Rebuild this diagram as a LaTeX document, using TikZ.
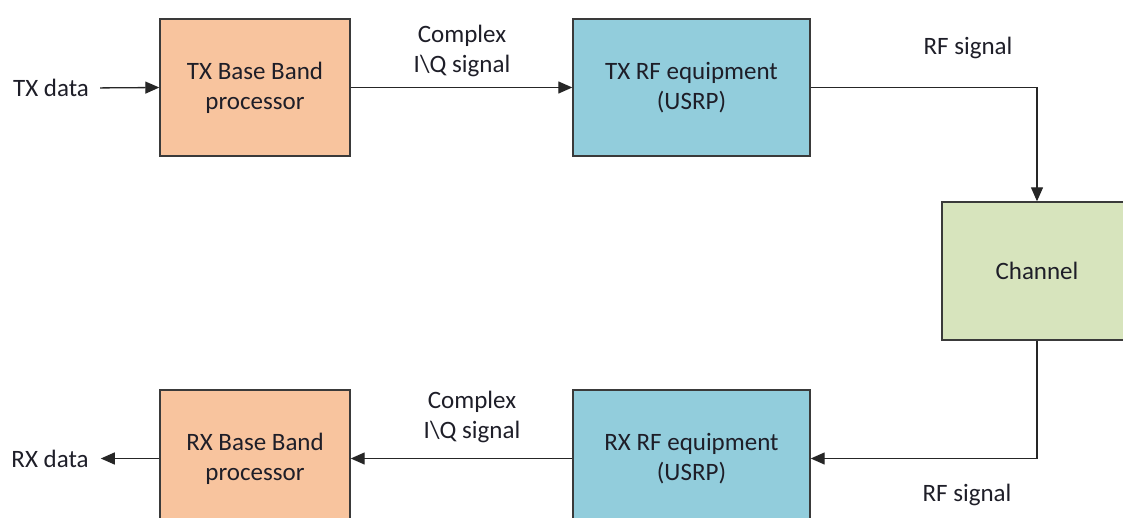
\documentclass[tikz,border=0pt]{standalone}
\usepackage{fontspec}
\setmainfont{Carlito}
\usetikzlibrary{arrows.meta}
\definecolor{bborange}{HTML}{F8C49E}
\definecolor{rfblue}{HTML}{92CDDC}
\definecolor{chgreen}{HTML}{D7E4BD}
\definecolor{edgegray}{HTML}{3A3A3A}
\definecolor{txtcol}{HTML}{1E1E28}
\begin{document}
\begin{tikzpicture}[x=1pt,y=-1pt,
  every node/.style={font=\fontsize{25}{30}\selectfont, text=txtcol},
  blockbox/.style={draw=edgegray, line width=1.4pt, align=center, inner sep=0pt},
  bbbox/.style={blockbox, fill=bborange, minimum width=190pt, minimum height=137pt},
  rfbox/.style={blockbox, fill=rfblue, minimum width=237pt, minimum height=137pt},
  chbox/.style={blockbox, fill=chgreen, minimum width=190pt, minimum height=138pt},
  lbl/.style={align=center, inner sep=0pt},
  conn/.style={draw=black!85, line width=1.3pt, -{Triangle[length=14pt,width=12pt]}}
]
\useasboundingbox (0,0) rectangle (1123,518);
\node[bbbox] (txbb) at (255,87.5) {TX Base Band\\processor};
\node[rfbox] (txrf) at (691.5,87.5) {TX RF equipment\\(USRP)};
\node[chbox] (ch) at (1037,271) {Channel};
\node[bbbox] (rxbb) at (255,458.5) {RX Base Band\\processor};
\node[rfbox] (rxrf) at (691.5,458.5) {RX RF equipment\\(USRP)};

\node[lbl] (txd) at (51,88) {TX data};
\node[lbl] (rxd) at (50,458.5) {RX data};
\node[lbl] (iqt) at (462,51) {Complex\\I\textbackslash Q signal};
\node[lbl] (iqb) at (472,417) {Complex\\I\textbackslash Q signal};
\node[lbl] (rft) at (968,48) {RF signal};
\node[lbl] (rfb) at (967,495) {RF signal};

\draw[conn, shorten <=11pt] (txd.east) -- (txbb.west);
\draw[conn] (txbb.east) -- (txrf.west);
\draw[conn] (txrf.east) -| (ch.north);
\draw[conn] (ch.south) |- (rxrf.east);
\draw[conn] (rxrf.west) -- (rxbb.west -| rxbb.east);
\draw[conn, shorten >=12pt] (rxbb.west) -- (rxd.east);
\end{tikzpicture}
\end{document}
